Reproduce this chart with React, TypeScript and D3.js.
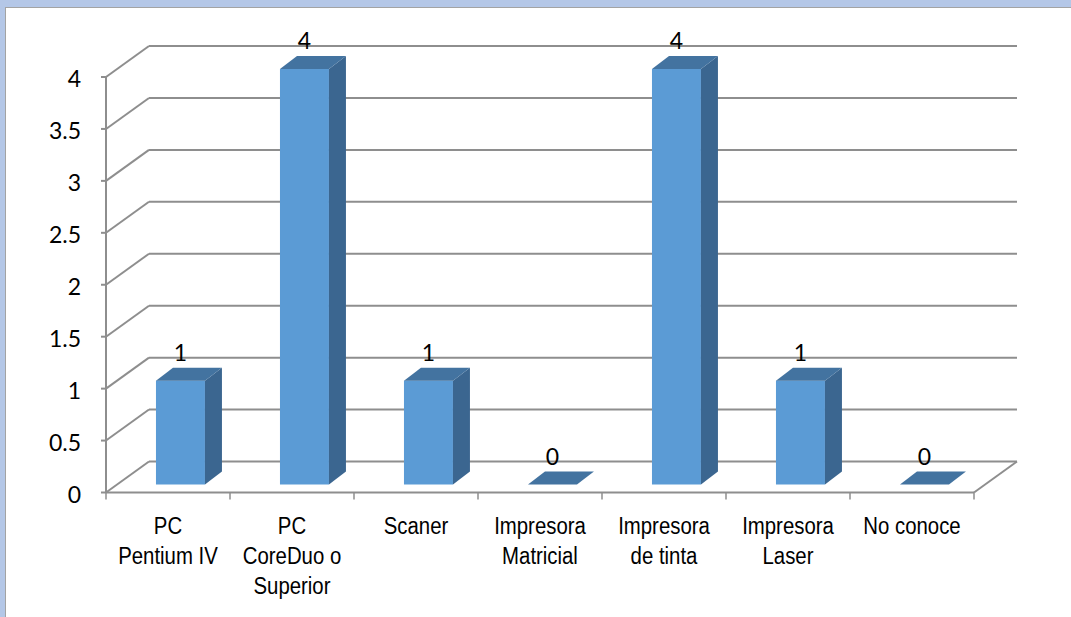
import React from "react";
import { scaleLinear, scaleBand, range } from "d3";

const categories = [
  ["PC", "Pentium IV"],
  ["PC", "CoreDuo o", "Superior"],
  ["Scaner"],
  ["Impresora", "Matricial"],
  ["Impresora", "de tinta"],
  ["Impresora", "Laser"],
  ["No conoce"],
];
const values = [1, 4, 1, 0, 4, 1, 0];
const yTicks = [0, 0.5, 1, 1.5, 2, 2.5, 3, 3.5, 4];
const yTickLabels = ["0", "0.5", "1", "1.5", "2", "2.5", "3", "3.5", "4"];

const W = 1071;
const H = 617;

// wall depth (back plane offset) and bar depth
const DX = 43;
const DY = -31;
const BAR_DX = 17;
const BAR_DY = -13;
const BAR_FRONT_DY = -8;

const GRID = "#8e8e8e";
const FRONT = "#5b9bd5";
const TOP = "#4373a0";
const SIDE = "#3b6690";
const NUM_FONT = "Lato, 'Open Sans', sans-serif";

const App: React.FC = () => {
  const y = scaleLinear().domain([0, 4]).range([492.5, 77]);
  const x = scaleBand<number>()
    .domain(range(categories.length))
    .range([106, 974])
    .paddingInner(0);
  const bw = x.bandwidth();
  const x0 = 106;
  const x1 = 974;

  return (
    <svg
      width={W}
      height={H}
      style={{ position: "absolute", left: 0, top: 0, background: "#fff" }}
    >
      {/* window frame */}
      <rect x={0} y={0} width={W} height={7} fill="#b4c7e7" />
      <rect x={0} y={0} width={5} height={H} fill="#b4c7e7" />
      <line x1={5.5} x2={5.5} y1={7} y2={H} stroke="#a3a3a3" strokeWidth={1} />
      <line x1={5} x2={W} y1={7.5} y2={7.5} stroke="#a3a3a3" strokeWidth={1} />

      {/* back wall gridlines + left wall diagonals */}
      {yTicks.map((t, k) => (
        <g key={t}>
          <line
            x1={x0 + DX}
            x2={x1 + DX}
            y1={y(t) + DY}
            y2={y(t) + DY}
            stroke={GRID}
            strokeWidth={2}
          />
          <line
            x1={x0}
            x2={x0 + DX}
            y1={y(t)}
            y2={y(t) + DY}
            stroke={GRID}
            strokeWidth={2}
          />
          <line x1={x0 - 5} x2={x0} y1={y(t)} y2={y(t)} stroke={GRID} strokeWidth={2} />
          <text
            x={81}
            y={y(t) + 10}
            textAnchor="end"
            fontFamily={NUM_FONT}
            fontSize={23}
            fill="#000"
          >
            {yTickLabels[k]}
          </text>
        </g>
      ))}

      {/* vertical axis */}
      <line x1={x0} x2={x0} y1={y(4)} y2={y(0)} stroke={GRID} strokeWidth={2} />

      {/* floor front and right edges */}
      <line x1={x0} x2={x1} y1={y(0)} y2={y(0)} stroke={GRID} strokeWidth={2} />
      <line x1={x1} x2={x1 + DX} y1={y(0)} y2={y(0) + DY} stroke={GRID} strokeWidth={2} />

      {/* category ticks */}
      {range(categories.length + 1).map((i) => (
        <line
          key={i}
          x1={x0 + i * bw}
          x2={x0 + i * bw}
          y1={y(0)}
          y2={y(0) + 7}
          stroke={GRID}
          strokeWidth={1.5}
        />
      ))}

      {/* bars */}
      {values.map((v, i) => {
        const left = (x(i) as number) + bw * 0.403;
        const bwid = bw * 0.395;
        const bottom = y(0) + BAR_FRONT_DY;
        const top = y(v) + BAR_FRONT_DY;
        const right = left + bwid;
        const topFace = `M${left},${top} L${left + BAR_DX},${top + BAR_DY} L${right + BAR_DX},${top + BAR_DY} L${right},${top} Z`;
        const sideFace = `M${right},${top} L${right + BAR_DX},${top + BAR_DY} L${right + BAR_DX},${bottom + BAR_DY} L${right},${bottom} Z`;
        return (
          <g key={i}>
            {v > 0 && <rect x={left} y={top} width={bwid} height={bottom - top} fill={FRONT} />}
            {v > 0 && <path d={sideFace} fill={SIDE} />}
            <path d={topFace} fill={TOP} />
            <text
              x={left + bwid / 2}
              y={top + BAR_DY - 7}
              textAnchor="middle"
              fontFamily={NUM_FONT}
              fontSize={23}
              fill="#000"
            >
              {v}
            </text>
          </g>
        );
      })}

      {/* category labels */}
      {categories.map((lines, i) => {
        const cx = (x(i) as number) + bw / 2;
        return (
          <g key={i}>
            {lines.map((ln, j) => (
              <text
                key={j}
                transform={`translate(${cx},${534 + j * 30}) scale(0.97,1.15)`}
                textAnchor="middle"
                fontFamily="'Liberation Sans', Arial, sans-serif"
                fontSize={21}
                fill="#000"
              >
                {ln}
              </text>
            ))}
          </g>
        );
      })}
    </svg>
  );
};

export default App;
